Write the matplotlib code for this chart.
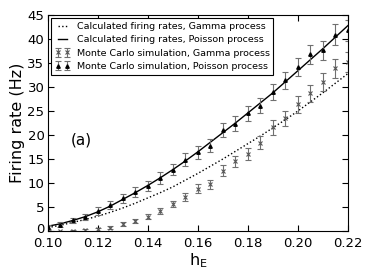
import matplotlib
matplotlib.use("Agg")
import matplotlib.pyplot as plt
from matplotlib.transforms import ScaledTranslation

h_E = [0.100, 0.105, 0.110, 0.115, 0.120, 0.125, 0.130, 0.135, 0.140, 0.145,
       0.150, 0.155, 0.160, 0.165, 0.170, 0.175, 0.180, 0.185, 0.190, 0.195,
       0.200, 0.205, 0.210, 0.215, 0.220]

calc_gamma = [0.7, 1.2, 1.8, 2.4, 3.1, 3.9, 4.8, 5.8, 6.9, 8.0,
              9.2, 10.6, 12.0, 13.5, 15.0, 16.6, 18.2, 19.8, 21.5, 23.2,
              25.0, 26.9, 28.8, 30.8, 32.8]
calc_poisson = [1.0, 1.5, 2.2, 3.0, 4.0, 5.2, 6.6, 8.0, 9.5, 11.1,
                12.8, 14.6, 16.5, 18.5, 20.5, 22.5, 24.6, 26.7, 28.8, 31.1,
                33.4, 35.7, 38.0, 40.4, 42.8]

mc_gamma = [0.1, 0.0, 0.05, 0.2, 0.35, 0.7, 1.4, 2.1, 3.0, 4.1,
            5.6, 7.1, 8.8, 9.7, 12.6, 14.5, 16.1, 18.4, 21.6, 23.5,
            26.4, 28.7, 31.0, 33.9, 35.3]
mc_gamma_err = [0.1, 0.1, 0.15, 0.2, 0.25, 0.3, 0.4, 0.4, 0.5, 0.6,
                0.7, 0.8, 0.9, 1.0, 1.1, 1.2, 1.3, 1.4, 1.5, 1.6,
                1.7, 1.8, 1.9, 2.0, 2.1]
mc_poisson = [0.9, 1.3, 2.2, 2.9, 4.1, 5.4, 6.8, 8.1, 9.4, 11.0,
              12.8, 14.9, 16.4, 17.8, 21.0, 22.4, 24.5, 26.1, 29.0, 31.4,
              34.2, 36.8, 37.7, 40.9, 41.8]
mc_poisson_err = [0.4, 0.5, 0.6, 0.7, 0.8, 0.9, 1.0, 1.0, 1.1, 1.2,
                  1.2, 1.3, 1.3, 1.4, 1.5, 1.5, 1.6, 1.6, 1.7, 1.8,
                  1.9, 2.0, 2.0, 2.2, 2.2]

x_ticks = [0.10, 0.12, 0.14, 0.16, 0.18, 0.20, 0.22]
y_ticks = [0, 5, 10, 15, 20, 25, 30, 35, 40, 45]

plt.rcParams['font.family'] = ['DejaVu Sans']
fig = plt.figure(figsize=(3.74, 2.80), dpi=100)
ax = fig.add_axes([0.128, 0.175, 0.802, 0.771])

ax.plot(h_E, calc_gamma, linestyle=':', color='black', lw=1.0,
        label='Calculated firing rates, Gamma process')
ax.plot(h_E, calc_poisson, linestyle='-', color='black', lw=1.0,
        label='Calculated firing rates, Poisson process')
ax.errorbar(h_E, mc_gamma, yerr=mc_gamma_err, fmt='x', color='#555555',
            ecolor='#707070', elinewidth=0.8, capsize=2.5, capthick=0.8,
            markersize=3, markeredgewidth=0.8,
            label='Monte Carlo simulation, Gamma process')
ax.errorbar(h_E, mc_poisson, yerr=mc_poisson_err, fmt='^', color='black',
            ecolor='#707070', elinewidth=0.8, capsize=2.5, capthick=0.8,
            markersize=2.5, label='Monte Carlo simulation, Poisson process')

ax.set_xlim(0.10, 0.22)
ax.set_ylim(0, 45)
ax.set_xticks(x_ticks)
ax.set_xticklabels(['%.2f' % v for v in x_ticks])
ax.set_yticks(y_ticks)
ax.tick_params(direction='in', top=True, right=True, labelsize=9.5, length=4)
ax.tick_params(axis='x', pad=4.5)
ax.tick_params(axis='y', pad=2.5)
for s in ax.spines.values():
    s.set_linewidth(0.8)

# nudge the "0" y tick label slightly up so it does not touch "0.10"
zero_lbl = ax.get_yticklabels()[0]
zero_lbl.set_transform(zero_lbl.get_transform()
                       + ScaledTranslation(0, 2.5 / 72, fig.dpi_scale_trans))

ax.set_xlabel('h$_\\mathregular{E}$', fontsize=11.5, labelpad=1)
ax.set_ylabel('Firing rate (Hz)', fontsize=11.5, labelpad=2)
ax.text(0.1135, 19.0, '(a)', fontsize=11, ha='center', va='center')

leg = ax.legend(loc='upper left', fontsize=6.8, numpoints=2, frameon=True,
                fancybox=False, edgecolor='black', framealpha=1,
                borderaxespad=0.35, handlelength=1.6, handletextpad=0.7,
                borderpad=0.4, labelspacing=0.45)
leg.get_frame().set_linewidth(0.8)

fig.savefig('out.png', dpi=100)
